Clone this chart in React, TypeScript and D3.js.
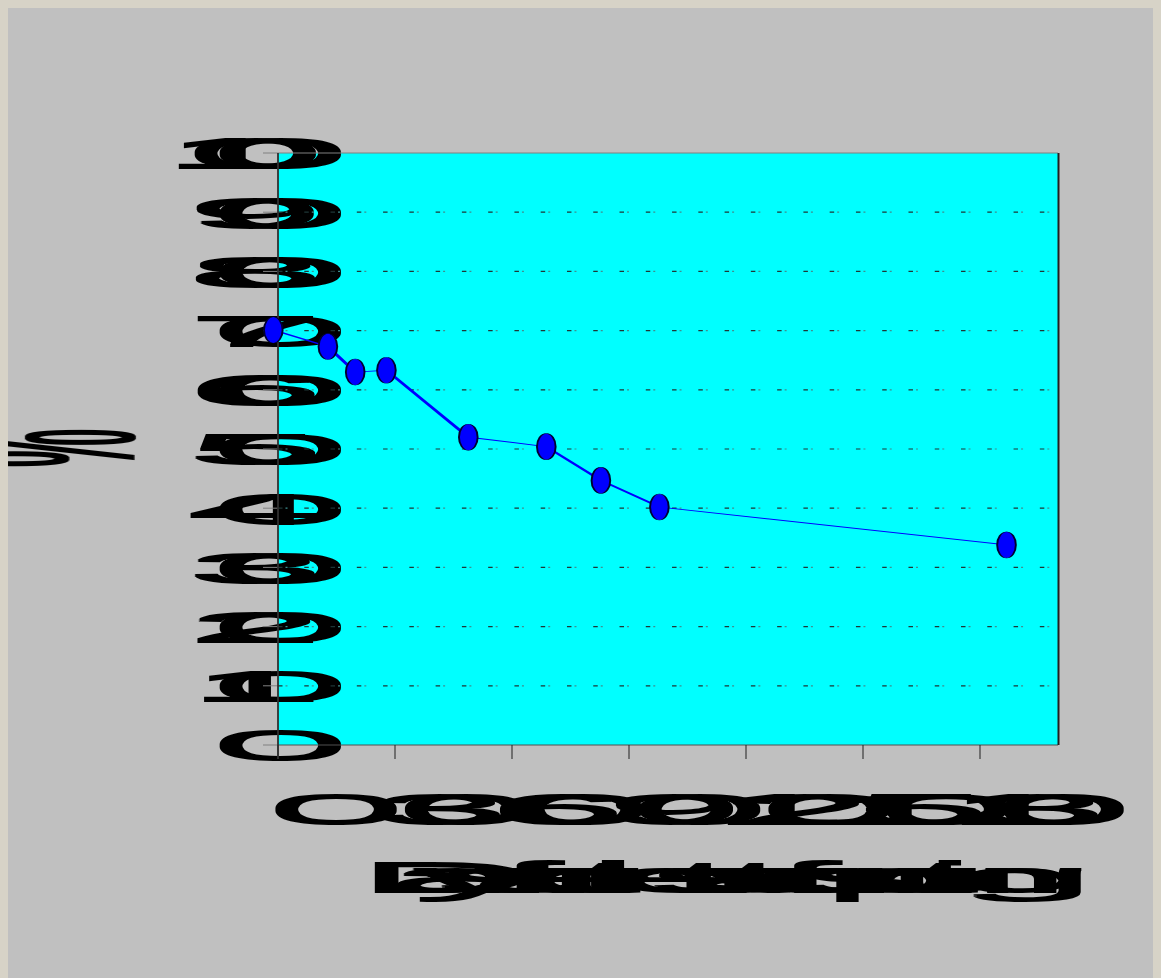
import React, { useLayoutEffect } from 'react';
import * as d3 from 'd3';

// ---- data ----
const days = [0, 14, 21, 29, 50, 70, 84, 99, 188];
const percent = [70.1, 67.3, 63.0, 63.3, 52.0, 50.4, 44.7, 40.2, 33.8];
const xTickValues = [0, 30, 60, 90, 120, 150, 180];
const yTickValues = [0, 10, 20, 30, 40, 50, 60, 70, 80, 90, 100];
const xTitle = 'Days after the start of sprouting';
const yTitle = '%';

// ---- layout / style ----
const PAGE_W = 1161;
const PAGE_H = 978;
const OFF = 8;
const PL = 278, PR = 1058, PT = 153, PB = 745;
const S = 6.04; // horizontal glyph stretch
const GLYPH_FS = 42; // glyph drawing size
const ADV_FS = 45; // size used for character advances
const FONT = '"Liberation Sans", Arial, sans-serif';
const DX = -4.7; // marker/line horizontal offset
const LINE_S = 5.53; // pen stretch for series

let ctx: CanvasRenderingContext2D | null = null;
function prefixWidths(str: string): number[] {
  if (!ctx) {
    const c = document.createElement('canvas');
    ctx = c.getContext('2d');
  }
  const out: number[] = [];
  if (!ctx) {
    for (let i = 0; i <= str.length; i++) out.push(i * ADV_FS * 0.556);
    return out;
  }
  ctx.font = `${ADV_FS}px "Liberation Sans", Arial, sans-serif`;
  for (let i = 0; i <= str.length; i++) out.push(ctx.measureText(str.slice(0, i)).width);
  return out;
}

function StretchText({ text, x, y, anchor }: { text: string; x: number; y: number; anchor: 'start' | 'middle' | 'end' }) {
  const pre = prefixWidths(text);
  const total = pre[text.length];
  const x0 = anchor === 'end' ? x - total : anchor === 'middle' ? x - total / 2 : x;
  return (
    <g>
      {text.split('').map((ch, i) =>
        ch === ' ' ? null : (
          <text
            key={i}
            transform={`translate(${x0 + pre[i]},${y}) scale(${S},1)`}
            fontFamily={FONT}
            fontSize={GLYPH_FS}
            fill="#000"
          >
            {ch}
          </text>
        )
      )}
    </g>
  );
}

export default function App() {
  useLayoutEffect(() => {
    document.documentElement.style.overflow = 'hidden';
    document.body.style.overflow = 'hidden';
    document.body.style.background = '#d7d3c7';
  }, []);

  const x = d3.scaleLinear().domain([0, 200]).range([PL, PR]);
  const y = d3.scaleLinear().domain([0, 100]).range([PB, PT]);

  const pts = days.map((d, i) => ({ x: d, y: percent[i] }));
  const line = d3
    .line<{ x: number; y: number }>()
    .x((d) => (x(d.x) + DX) / LINE_S)
    .y((d) => y(d.y));

  const gridVals = yTickValues.filter((v) => v > 0 && v < 100);

  return (
    <svg width={PAGE_W - OFF} height={PAGE_H - OFF} style={{ display: 'block' }}>
      <defs>
        <filter id="thick" x="-5%" y="-5%" width="110%" height="110%">
          <feMorphology operator="dilate" radius="0.2 1.1" />
        </filter>
      </defs>
      <g transform={`translate(${-OFF},${-OFF})`}>
        <rect x={OFF} y={OFF} width={PAGE_W} height={PAGE_H} fill="#c0c0c0" />
        <rect x={PL} y={PT} width={PR - PL} height={PB - PT} fill="#00ffff" />

        <g filter="url(#thick)">
          {/* y tick labels */}
          {yTickValues.map((v) => (
            <StretchText key={`yl${v}`} text={String(v)} x={PL - 43.3} y={y(v) + 15.3} anchor="end" />
          ))}
          {/* x tick labels */}
          {xTickValues.map((v) => (
            <StretchText key={`xl${v}`} text={String(v)} x={x(v)} y={823.5} anchor="middle" />
          ))}
          {/* x title */}
          <StretchText text={xTitle} x={(PL + PR) / 2} y={892.2} anchor="middle" />
          {/* y title */}
          <text
            transform={`translate(134.8,448) scale(${S},1) rotate(-90)`}
            textAnchor="middle"
            fontFamily={FONT}
            fontSize={GLYPH_FS}
            fill="#000"
          >
            {yTitle}
          </text>
        </g>

        {/* grid */}
        {gridVals.map((v) => (
          <g key={`g${v}`}>
            <line x1={PL} x2={PR} y1={y(v)} y2={y(v)} stroke="#1e3636" strokeWidth={1.2} strokeDasharray="4.5 21.77" />
            <line
              x1={PL}
              x2={PR}
              y1={y(v)}
              y2={y(v)}
              stroke="#3f8f8f"
              strokeWidth={1.2}
              strokeDasharray="2 24.27"
              strokeDashoffset={-7.5}
            />
          </g>
        ))}

        {/* y ticks */}
        {yTickValues.map((v) => (
          <line key={`yt${v}`} x1={263} x2={PL} y1={y(v)} y2={y(v)} stroke="#808080" strokeWidth={1} />
        ))}
        {/* top border */}
        <line x1={PL} x2={PR} y1={PT} y2={PT} stroke="#808080" strokeWidth={1.2} />
        {/* bottom axis */}
        <line x1={PL} x2={PR} y1={PB} y2={PB} stroke="#505050" strokeWidth={1} />
        {xTickValues.map((v) => (
          <line key={`xt${v}`} x1={x(v)} x2={x(v)} y1={PB} y2={759} stroke="#202020" strokeWidth={1} />
        ))}
        {/* right border */}
        <line x1={PR + 0.5} x2={PR + 0.5} y1={PT} y2={PB} stroke="#202020" strokeWidth={2} />
        {/* left axis */}
        <line x1={PL} x2={PL} y1={PT} y2={759} stroke="#303030" strokeWidth={1.8} />

        {/* series: drawn in horizontally stretched space */}
        <g transform={`scale(${LINE_S},1)`}>
          <path d={line(pts) || ''} fill="none" stroke="#0000ff" strokeWidth={0.78} />
          {pts.map((p, i) => (
            <ellipse
              key={`m${i}`}
              cx={(x(p.x) + DX) / LINE_S}
              cy={y(p.y)}
              rx={1.687}
              ry={13.1}
              fill="#0000ff"
              stroke="#000030"
              strokeWidth={0.35}
            />
          ))}
        </g>
      </g>
    </svg>
  );
}
